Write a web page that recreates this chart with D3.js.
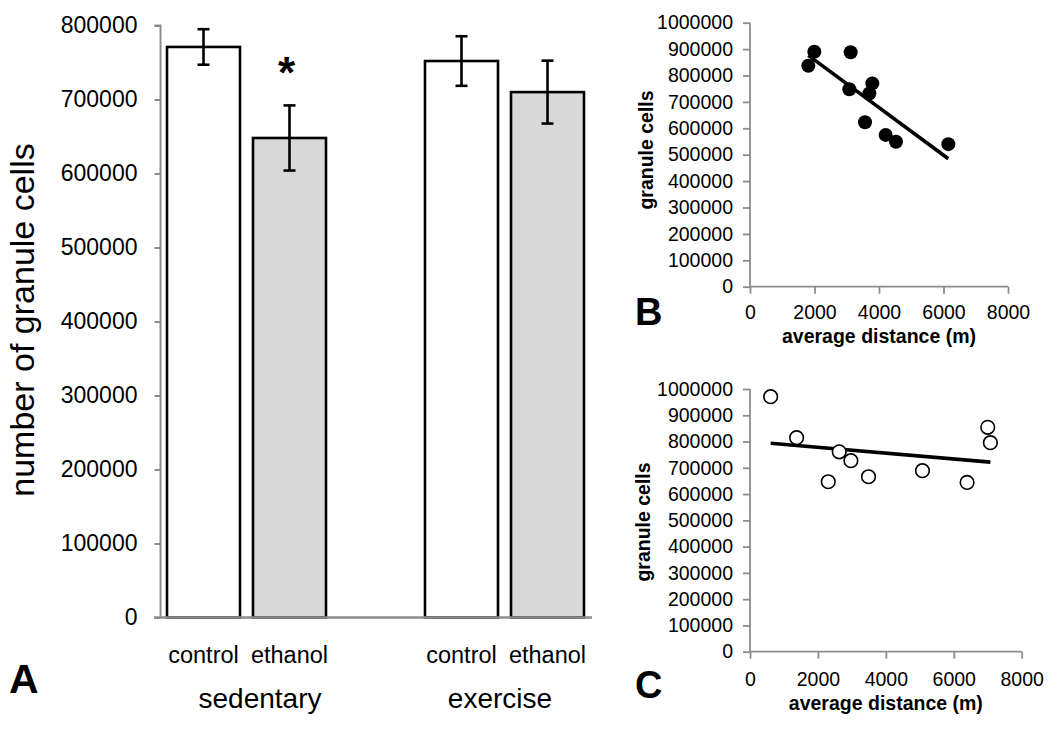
<!DOCTYPE html>
<html>
<head>
<meta charset="utf-8">
<script src="https://cdn.jsdelivr.net/npm/d3@7"></script>
<style>
  html, body { margin: 0; padding: 0; background: #fff; }
  svg { display: block; font-family: "Liberation Sans", Arial, Helvetica, sans-serif; }
</style>
</head>
<body>
<svg id="chart" width="1050" height="729"></svg>
<script>
// ---------- Panel A data ----------
const barKeys = ["sed-control", "sed-ethanol", "gap", "ex-control", "ex-ethanol"];
const barCategories = ["control", "ethanol", "control", "ethanol"];
const barSlots = ["sed-control", "sed-ethanol", "ex-control", "ex-ethanol"];
const barGroups = ["sedentary", "sedentary", "exercise", "exercise"];
const barMeans = [771000, 648000, 752000, 710000];
const barSEM = [24000, 44000, 33500, 42500];
const barIsEthanol = [false, true, false, true];
const groupLabels = ["sedentary", "exercise"];
const yTicksA = [0, 100000, 200000, 300000, 400000, 500000, 600000, 700000, 800000];

// ---------- Panel B data (filled circles) ----------
const distB = [1808, 1995, 3121, 3080, 3793, 3700, 3566, 4207, 4527, 6150];
const cellsB = [837000, 890000, 888000, 748000, 770000, 732000, 623000, 575000, 549000, 540000];

// ---------- Panel C data (open circles) ----------
const distC = [608, 1373, 2304, 2627, 2971, 3490, 5078, 6392, 7000, 7078];
const cellsC = [970700, 814600, 647000, 761000, 727000, 666000, 689000, 644500, 854000, 795600];

const xTicksScatter = [0, 2000, 4000, 6000, 8000];
const yTicksScatter = [0, 100000, 200000, 300000, 400000, 500000, 600000, 700000, 800000, 900000, 1000000];

const svg = d3.select("#chart");
const axisGray = "#8c8c8c";

// ================= PANEL A =================
const xA = d3.scaleBand().domain(barKeys).range([167, 584]).paddingInner(13 / 86).paddingOuter(0);
const yA = d3.scaleLinear().domain([0, 800000]).range([617.5, 25.5]);

const gA = svg.append("g");

// y axis
const yAxisA = d3.axisLeft(yA).tickValues(yTicksA).tickSize(6).tickPadding(17).tickFormat(d3.format("d"));
const gyA = gA.append("g").attr("transform", "translate(160.5,0)").call(yAxisA);
gyA.select(".domain").attr("stroke", axisGray).attr("stroke-width", 2).attr("d", `M-6,${yA(800000)}H0V${yA(0)}`);
gyA.selectAll(".tick line").attr("stroke", axisGray).attr("stroke-width", 2);
gyA.selectAll(".tick text").attr("font-size", 23).attr("fill", "#000").attr("font-family", "Liberation Sans, Arial, sans-serif");

// bars
const barData = barMeans.map((m, i) => ({ key: barSlots[i], mean: m, sem: barSEM[i], eth: barIsEthanol[i], cat: barCategories[i], grp: barGroups[i] }));
gA.selectAll("rect.bar").data(barData).enter().append("rect")
  .attr("class", "bar")
  .attr("x", d => xA(d.key))
  .attr("y", d => yA(d.mean))
  .attr("width", xA.bandwidth())
  .attr("height", d => yA(0) - yA(d.mean))
  .attr("fill", d => d.eth ? "#d8d8d8" : "#ffffff")
  .attr("stroke", "#000").attr("stroke-width", 2.6);

// x axis line (drawn over bar bottoms)
gA.append("line").attr("x1", 154).attr("x2", 592).attr("y1", yA(0)).attr("y2", yA(0))
  .attr("stroke", axisGray).attr("stroke-width", 2.4);

// error bars
const eb = gA.selectAll("g.err").data(barData).enter().append("g").attr("class", "err");
eb.append("line")
  .attr("x1", d => xA(d.key) + xA.bandwidth() / 2).attr("x2", d => xA(d.key) + xA.bandwidth() / 2)
  .attr("y1", d => yA(d.mean + d.sem)).attr("y2", d => yA(d.mean - d.sem))
  .attr("stroke", "#000").attr("stroke-width", 2.6);
[1, -1].forEach(s => {
  eb.append("line")
    .attr("x1", d => xA(d.key) + xA.bandwidth() / 2 - 6).attr("x2", d => xA(d.key) + xA.bandwidth() / 2 + 6)
    .attr("y1", d => yA(d.mean + s * d.sem)).attr("y2", d => yA(d.mean + s * d.sem))
    .attr("stroke", "#000").attr("stroke-width", 2.6);
});

// significance asterisk above sedentary ethanol
gA.append("text").attr("x", xA("sed-ethanol") + xA.bandwidth() / 2 - 3).attr("y", 88)
  .attr("text-anchor", "middle").attr("font-size", 44).attr("font-weight", "bold").text("*");

// category labels
gA.selectAll("text.cat").data(barData).enter().append("text")
  .attr("class", "cat")
  .attr("x", d => xA(d.key) + xA.bandwidth() / 2)
  .attr("y", 663)
  .attr("text-anchor", "middle").attr("font-size", 23.5).text(d => d.cat);

// group labels
const groupX = { sedentary: 260, exercise: 500 };
gA.selectAll("text.grp").data(groupLabels).enter().append("text")
  .attr("class", "grp")
  .attr("x", d => groupX[d]).attr("y", 708)
  .attr("text-anchor", "middle").attr("font-size", 28).text(d => d);

// y label
gA.append("text").attr("transform", "translate(34,320) rotate(-90)")
  .attr("text-anchor", "middle").attr("font-size", 34).text("number of granule cells");

// panel letter
gA.append("text").attr("x", 9).attr("y", 693).attr("font-size", 41).attr("font-weight", "bold").text("A");

// ================= SCATTER PANELS =================
function scatterPanel(opts) {
  const { xs, ys, x0, x1, y0, y1, filled, letter, letterY, tickLabelY, titleY, ylabelX, ylabelY } = opts;
  const g = svg.append("g");
  const x = d3.scaleLinear().domain([0, 8000]).range([x0, x1]);
  const y = d3.scaleLinear().domain([0, 1000000]).range([y0, y1]);

  const yAxis = d3.axisLeft(y).tickValues(yTicksScatter).tickSize(7).tickPadding(10).tickFormat(d3.format("d"));
  const gy = g.append("g").attr("transform", `translate(${x0},0)`).call(yAxis);
  gy.select(".domain").attr("stroke", axisGray).attr("stroke-width", 1.8).attr("d", `M0,${y1}V${y0}`);
  gy.selectAll(".tick line").attr("stroke", axisGray).attr("stroke-width", 1.8);
  gy.selectAll(".tick text").attr("font-size", 19.5).attr("fill", "#000").attr("font-family", "Liberation Sans, Arial, sans-serif");

  const xAxis = d3.axisBottom(x).tickValues(xTicksScatter).tickSize(7).tickPadding(0).tickFormat(d3.format("d"));
  const gx = g.append("g").attr("transform", `translate(0,${y0})`).call(xAxis);
  gx.select(".domain").attr("stroke", axisGray).attr("stroke-width", 1.8).attr("d", `M${x0},0H${x1}`);
  gx.selectAll(".tick line").attr("stroke", axisGray).attr("stroke-width", 1.8);
  gx.selectAll(".tick text").attr("font-size", 19.5).attr("fill", "#000")
    .attr("font-family", "Liberation Sans, Arial, sans-serif")
    .attr("dy", null).attr("y", tickLabelY - y0);

  // regression line (least squares from the data)
  const mx = d3.mean(xs), my = d3.mean(ys);
  const slope = d3.sum(xs, (v, i) => (v - mx) * (ys[i] - my)) / d3.sum(xs, v => (v - mx) * (v - mx));
  const icpt = my - slope * mx;
  const xmin = d3.min(xs), xmax = d3.max(xs);
  g.append("line")
    .attr("x1", x(xmin)).attr("y1", y(icpt + slope * xmin))
    .attr("x2", x(xmax)).attr("y2", y(icpt + slope * xmax))
    .attr("stroke", "#000").attr("stroke-width", 3.6);

  g.selectAll("circle").data(xs.map((v, i) => [v, ys[i]])).enter().append("circle")
    .attr("cx", d => x(d[0])).attr("cy", d => y(d[1]))
    .attr("r", filled ? 7 : 6.8)
    .attr("fill", filled ? "#000" : "#fff")
    .attr("stroke", "#000").attr("stroke-width", filled ? 0 : 1.6);

  g.append("text").attr("x", (x0 + x1) / 2).attr("y", titleY).attr("text-anchor", "middle")
    .attr("font-size", 19.5).attr("font-weight", "bold").text("average distance (m)");
  g.append("text").attr("transform", `translate(${ylabelX},${ylabelY}) rotate(-90)`).attr("text-anchor", "middle")
    .attr("font-size", 19.5).attr("font-weight", "bold").text("granule cells");
  g.append("text").attr("x", 635).attr("y", letterY).attr("font-size", 38).attr("font-weight", "bold").text(letter);
}

scatterPanel({ xs: distB, ys: cellsB, x0: 750, x1: 1008, y0: 286.7, y1: 22.7, filled: true,
  letter: "B", letterY: 325, tickLabelY: 319, titleY: 343, ylabelX: 653, ylabelY: 150 });
scatterPanel({ xs: distC, ys: cellsC, x0: 750, x1: 1021.7, y0: 651.7, y1: 389, filled: false,
  letter: "C", letterY: 698, tickLabelY: 686, titleY: 710, ylabelX: 650, ylabelY: 522 });
</script>
</body>
</html>
